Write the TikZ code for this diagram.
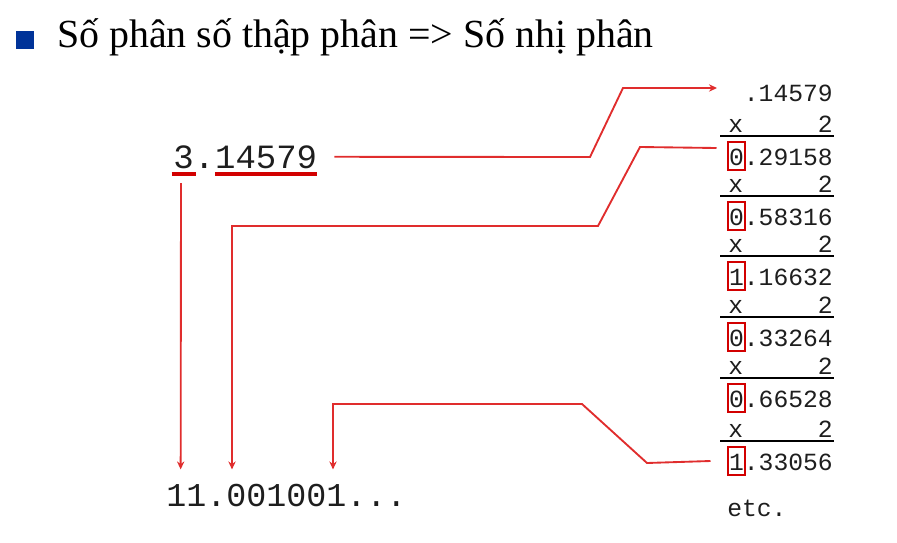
\documentclass[tikz,border=0pt]{standalone}
\usepackage{fontspec}
\setmainfont{Liberation Serif}
\newfontfamily\monofont{Liberation Mono}
\usetikzlibrary{arrows.meta}
\definecolor{linered}{RGB}{224,45,45}
\definecolor{boxred}{RGB}{210,0,0}
\definecolor{bulletblue}{RGB}{0,51,153}
\definecolor{digitgray}{RGB}{30,30,30}
\begin{document}
\begin{tikzpicture}[x=0.75pt,y=-0.75pt,
  conn/.style={draw=linered,line width=1.4pt},
  tip/.style={-{Stealth[length=6pt,width=5.5pt]}},
  bignum/.style={font=\monofont\fontsize{25.5}{27}\selectfont,text=digitgray,inner sep=0pt},
  binnum/.style={font=\monofont\fontsize{25}{27}\selectfont,text=digitgray,inner sep=0pt},
  smallnum/.style={font=\monofont\fontsize{18.5}{20}\selectfont,text=digitgray,inner sep=0pt},
  digitbox/.style={draw=boxred,line width=1.5pt,minimum width=12.75pt,minimum height=21pt,inner sep=0pt},
  rulel/.style={draw=black,line width=1.8pt},
  uline/.style={draw=boxred,line width=3pt}]
\useasboundingbox (0,0) rectangle (897,543);
% title
\node[fill=bulletblue,minimum size=13.5pt,inner sep=0pt] (bullet) at (25,39.5) {};
\node[anchor=base west,inner sep=0pt,font=\fontsize{29.9}{32}\selectfont] (title) at (57,47) {Số phân số thập phân => Số nhị phân};
% decimal number
\node[bignum,anchor=base west] (n3) at (173,168) {3};
\node[bignum,anchor=base west] (ndot) at (n3.base east) {.};
\node[bignum,anchor=base west] (nfrac) at (ndot.base east) {14579};
\draw[uline] ([xshift=-1pt,yshift=-4pt]n3.south west) -- ([xshift=1.5pt,yshift=-4pt]n3.south east);
\draw[uline] ([yshift=-4pt]nfrac.south west) -- ([yshift=-4pt]nfrac.south east);
% binary result
\node[binnum,anchor=base west] (bin) at (166,506) {11.001001...};
% right column
\node[smallnum,anchor=base east] (top) at (833,101) {.14579};
\foreach \i/\y/\d/\r in {1/157/0/29158,2/217/0/58316,3/277/1/16632,4/338/0/33264,5/399/0/66528,6/462/1/33056}{
  \node[smallnum,anchor=base west] (x\i) at (728,\y-25) {x};
  \node[smallnum,anchor=base east] (t\i) at (833,\y-25) {2};
  \draw[rulel] (720,\y-21) -- (834,\y-21);
  \node[smallnum,anchor=base east] (v\i) at (833,\y+8) {\d.\r};
  \node[digitbox] (b\i) at (736,\y-1) {};
}
\node[smallnum,anchor=base west] (etc) at (727,516) {etc.};
% connectors
\coordinate (a1) at (717,88);
\draw[conn,tip] ([xshift=12.75pt]nfrac.east) -- (590,157) -- (623,88) -- (a1);
\draw[conn,tip] (181,183) -- ([xshift=11pt,yshift=10.5pt]bin.north west);
\draw[conn,tip] ([xshift=-7.5pt,yshift=6pt]b1.west) -- (640,147) -- (598,226) -- (232,226) -- ([xshift=49.5pt,yshift=10.5pt]bin.north west);
\draw[conn,tip] ([xshift=-12pt]b6.west) -- (647,463) -- (582,404) -- (333,404) -- ([xshift=125.25pt,yshift=10.5pt]bin.north west);
\end{tikzpicture}
\end{document}
